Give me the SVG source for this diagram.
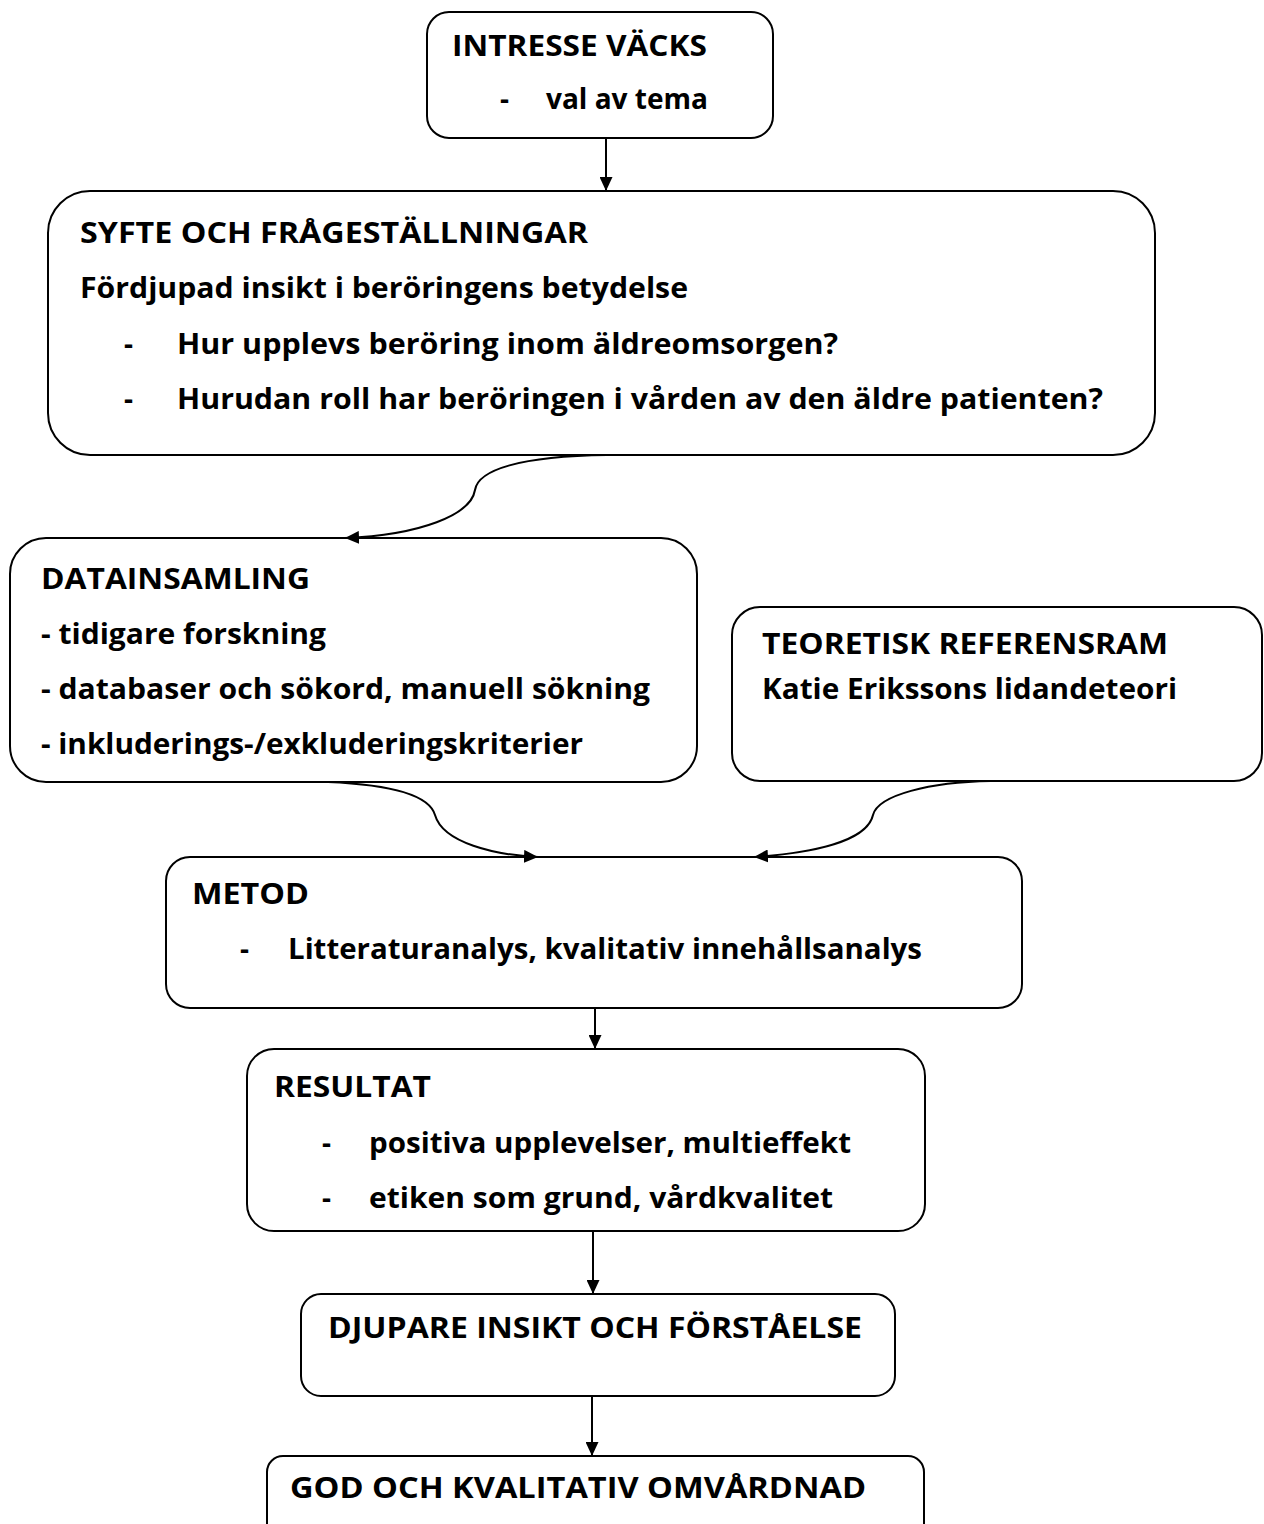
<svg xmlns="http://www.w3.org/2000/svg" width="1264" height="1524" viewBox="0 0 1264 1524">
<style>
.box{fill:#fff;stroke:#000;stroke-width:2}
.t{font-family:"Open Sans","Noto Sans","Liberation Sans",sans-serif;font-size:28px;font-weight:700;fill:#000}
.c{fill:none;stroke:#000;stroke-width:2}
</style>
<defs>
<marker id="ah" viewBox="0 0 14 13" refX="14" refY="6.5" markerWidth="14" markerHeight="13" orient="auto" markerUnits="userSpaceOnUse"><path d="M0,0 L14,6.5 L0,13 z" fill="#000"/></marker>
</defs>
<rect width="1264" height="1524" fill="#fff"/>
<g id="n1">
<rect class="box" x="427" y="12" width="346" height="126" rx="22"/>
<text class="t" x="452" y="56" textLength="255" lengthAdjust="spacingAndGlyphs">INTRESSE VÄCKS</text>
<text class="t" x="500" y="109">-</text>
<text class="t" x="546" y="109" textLength="162" lengthAdjust="spacingAndGlyphs">val av tema</text>
</g>
<g id="n2">
<rect class="box" x="48" y="191" width="1107" height="264" rx="42"/>
<text class="t" x="80" y="243" textLength="508" lengthAdjust="spacingAndGlyphs">SYFTE OCH FRÅGESTÄLLNINGAR</text>
<text class="t" x="80" y="298" textLength="608" lengthAdjust="spacingAndGlyphs">Fördjupad insikt i beröringens betydelse</text>
<text class="t" x="124" y="354">-</text>
<text class="t" x="177" y="354" textLength="661" lengthAdjust="spacingAndGlyphs">Hur upplevs beröring inom äldreomsorgen?</text>
<text class="t" x="124" y="409">-</text>
<text class="t" x="177" y="409" textLength="926" lengthAdjust="spacingAndGlyphs">Hurudan roll har beröringen i vården av den äldre patienten?</text>
</g>
<g id="n3">
<rect class="box" x="10" y="538" width="687" height="244" rx="36"/>
<text class="t" x="41" y="589" textLength="269" lengthAdjust="spacingAndGlyphs">DATAINSAMLING</text>
<text class="t" x="41" y="644" textLength="285" lengthAdjust="spacingAndGlyphs">- tidigare forskning</text>
<text class="t" x="41" y="699" textLength="609" lengthAdjust="spacingAndGlyphs">- databaser och sökord, manuell sökning</text>
<text class="t" x="41" y="754" textLength="542" lengthAdjust="spacingAndGlyphs">- inkluderings-/exkluderingskriterier</text>
</g>
<g id="n4">
<rect class="box" x="732" y="607" width="530" height="174" rx="28"/>
<text class="t" x="762" y="654" textLength="406" lengthAdjust="spacingAndGlyphs">TEORETISK REFERENSRAM</text>
<text class="t" x="762" y="699" textLength="415" lengthAdjust="spacingAndGlyphs">Katie Erikssons lidandeteori</text>
</g>
<g id="n5">
<rect class="box" x="166" y="857" width="856" height="151" rx="24"/>
<text class="t" x="192" y="904" textLength="117" lengthAdjust="spacingAndGlyphs">METOD</text>
<text class="t" x="240" y="959">-</text>
<text class="t" x="288" y="959" textLength="634" lengthAdjust="spacingAndGlyphs">Litteraturanalys, kvalitativ innehållsanalys</text>
</g>
<g id="n6">
<rect class="box" x="247" y="1049" width="678" height="182" rx="27"/>
<text class="t" x="274" y="1097" textLength="157" lengthAdjust="spacingAndGlyphs">RESULTAT</text>
<text class="t" x="322" y="1153">-</text>
<text class="t" x="369" y="1153" textLength="482" lengthAdjust="spacingAndGlyphs">positiva upplevelser, multieffekt</text>
<text class="t" x="322" y="1208">-</text>
<text class="t" x="369" y="1208" textLength="464" lengthAdjust="spacingAndGlyphs">etiken som grund, vårdkvalitet</text>
</g>
<g id="n7">
<rect class="box" x="301" y="1294" width="594" height="102" rx="20"/>
<text class="t" x="328" y="1338" textLength="534" lengthAdjust="spacingAndGlyphs">DJUPARE INSIKT OCH FÖRSTÅELSE</text>
</g>
<g id="n8">
<rect class="box" x="267" y="1456" width="657" height="100" rx="16"/>
<text class="t" x="290" y="1498" textLength="576" lengthAdjust="spacingAndGlyphs">GOD OCH KVALITATIV OMVÅRDNAD</text>
</g>
<g id="connectors">
<line class="c" x1="606" y1="138" x2="606" y2="191" marker-end="url(#ah)"/>
<path class="c" d="M607,455 C520,456 478,470 475,490 C471,515 420,535 345,538" marker-end="url(#ah)"/>
<path class="c" d="M328,782 C400,785 430,798 435,815 C443,843 495,855 538,857" marker-end="url(#ah)"/>
<path class="c" d="M991,781 C930,782 878,795 873,815 C867,842 810,853 754,857" marker-end="url(#ah)"/>
<line class="c" x1="595" y1="1008" x2="595" y2="1049" marker-end="url(#ah)"/>
<line class="c" x1="593" y1="1231" x2="593" y2="1294" marker-end="url(#ah)"/>
<line class="c" x1="592" y1="1396" x2="592" y2="1456" marker-end="url(#ah)"/>
</g>
</svg>
